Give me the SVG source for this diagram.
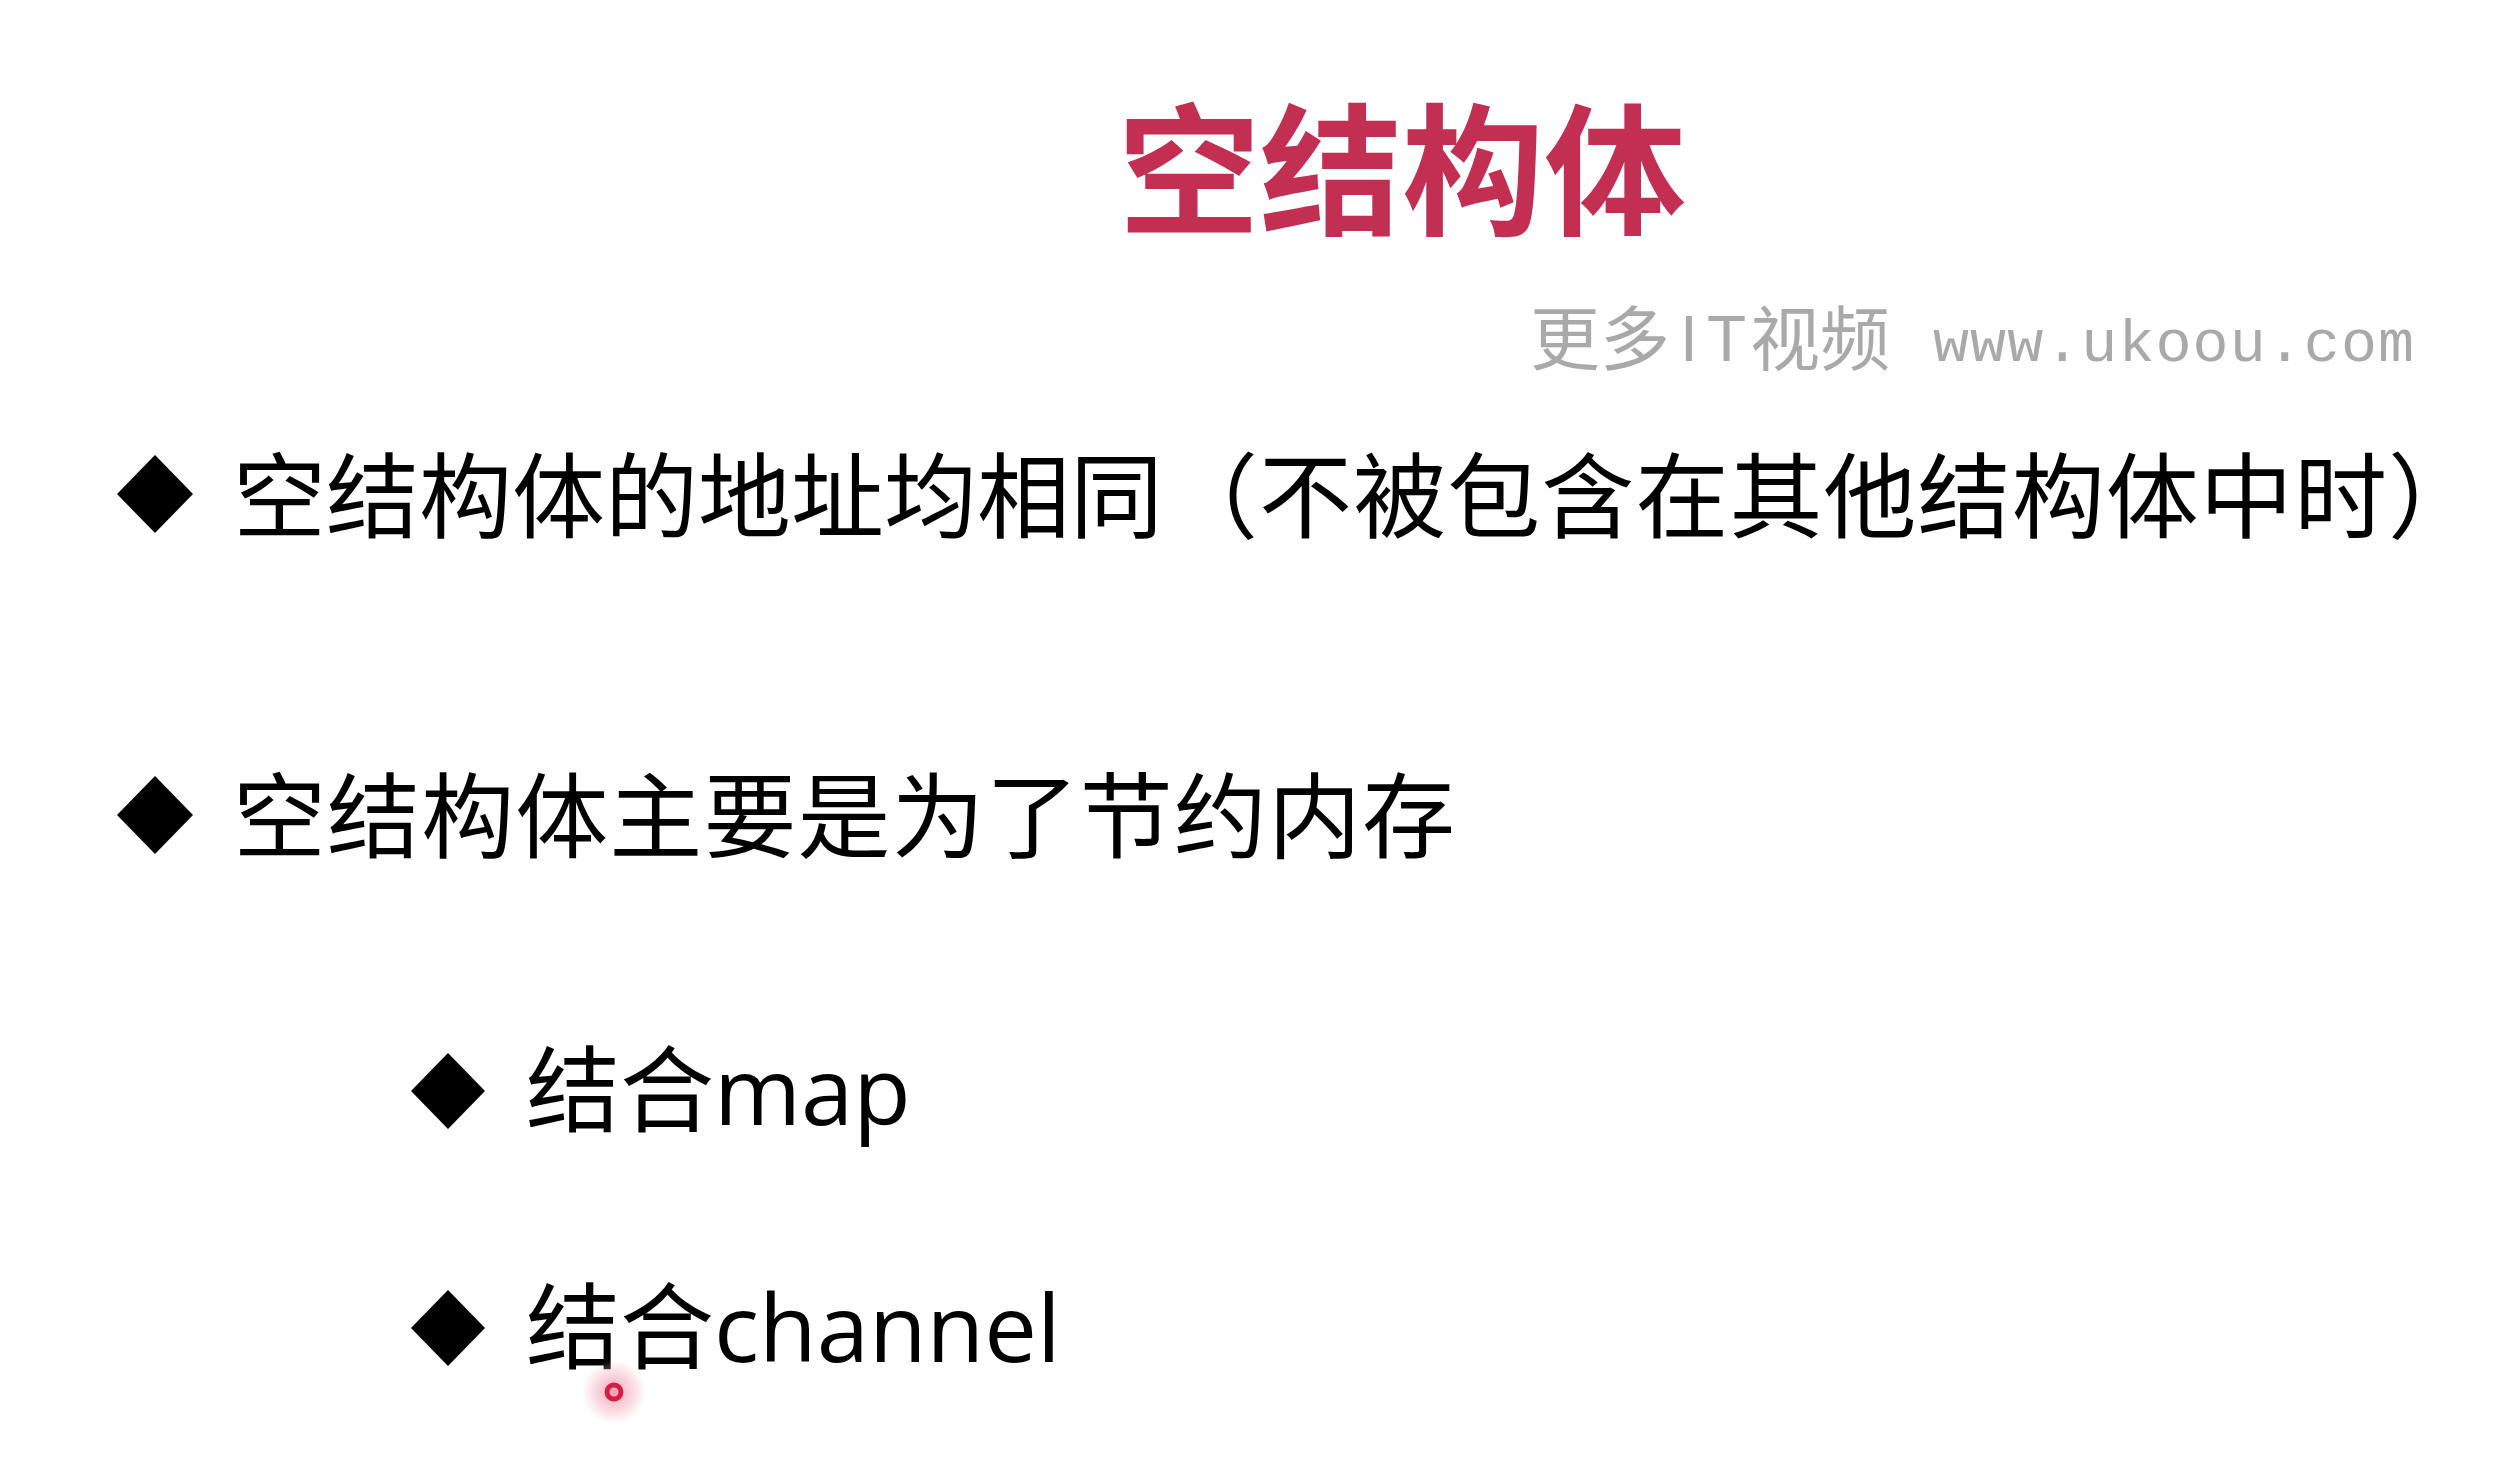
<svg xmlns="http://www.w3.org/2000/svg" width="2496" height="1460" viewBox="0 0 2496 1460">
<defs>
<style>
.title{font-family:"Noto Sans CJK SC","Noto Sans",sans-serif;font-weight:700;font-size:142px;fill:#C22F52;}
.body{font-family:"Noto Sans CJK SC","Noto Sans",sans-serif;font-size:93px;fill:#000;}
.sub{font-family:"Open Sans","Noto Sans CJK SC",sans-serif;font-size:94px;fill:#000;}
.wmc{font-family:"Noto Sans CJK SC",sans-serif;font-size:70px;fill:#A9A9A9;}
.wms{font-family:"Liberation Sans",sans-serif;font-size:64px;fill:#A9A9A9;}
.wml{font-family:"Liberation Mono",monospace;font-size:60px;fill:#A9A9A9;}
.bullet{fill:#000;}
</style>
<radialGradient id="halo">
<stop offset="0" stop-color="#F08AA4" stop-opacity="0.85"/>
<stop offset="0.6" stop-color="#F4B0C0" stop-opacity="0.45"/>
<stop offset="1" stop-color="#F4B0C0" stop-opacity="0"/>
</radialGradient>
</defs>
<rect width="2496" height="1460" fill="#FFFFFF"/>
<g id="title"><text class="title" x="1118" y="224">空结构体</text></g>
<g id="watermark">
<text class="wmc" x="1530" y="365">更多</text>
<text class="wms" x="1680" y="361" textLength="66" lengthAdjust="spacing">IT</text>
<text class="wmc" x="1750" y="365">视频</text>
<text class="wml" x="1933" y="361" textLength="481" lengthAdjust="spacing">www.ukoou.com</text>
</g>
<g id="item1">
<polygon class="bullet" points="155,455 193,494 155,533 117,494"/>
<text class="body" x="233" y="531">空结构体的地址均相同</text>
<text class="body" x="1165" y="531" textLength="1316" lengthAdjust="spacing">（不被包含在其他结构体中时）</text>
</g>
<g id="item2">
<polygon class="bullet" points="155,776 193,815 155,854 117,815"/>
<text class="body" x="233" y="851" textLength="1222" lengthAdjust="spacing">空结构体主要是为了节约内存</text>
</g>
<g id="item3">
<polygon class="bullet" points="448,1053 485,1091 448,1129 411,1091"/>
<text class="sub" x="526" y="1125">结合map</text>
</g>
<g id="item4">
<polygon class="bullet" points="448,1290 485,1328 448,1366 411,1328"/>
<text class="sub" x="526" y="1362">结合channel</text>
</g>
<g id="cursor">
<circle cx="614" cy="1392" r="32" fill="url(#halo)"/>
<circle cx="614" cy="1392" r="7" fill="none" stroke="#D41F45" stroke-width="5"/>
</g>
</svg>
